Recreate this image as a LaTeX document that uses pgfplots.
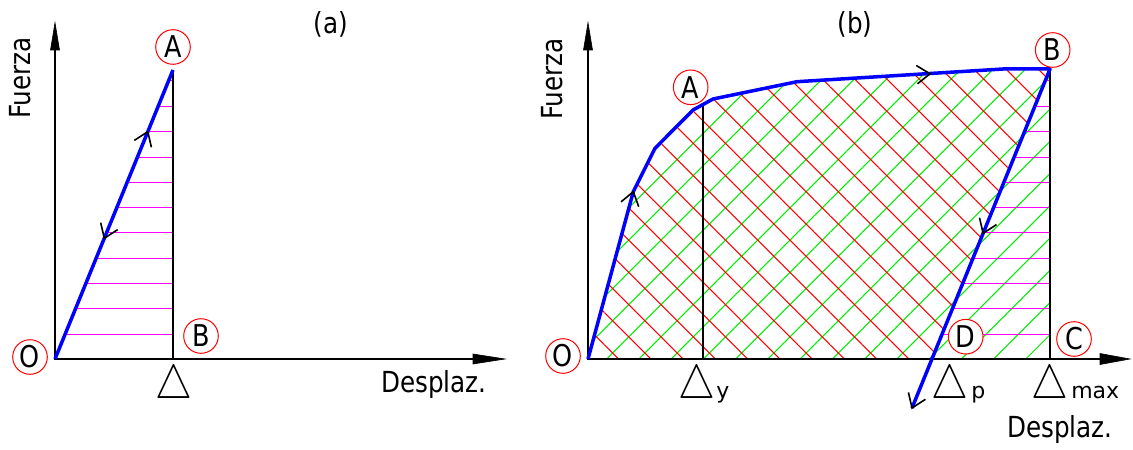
\documentclass[border=0pt]{standalone}
\usepackage{fontspec}
\setmainfont{DejaVu Sans}[FakeStretch=0.85]
\newfontfamily\plainfont{DejaVu Sans}
\usepackage{pgfplots}
\pgfplotsset{compat=1.18}
\usetikzlibrary{patterns.meta}

\definecolor{hatchred}{RGB}{255,0,0}
\definecolor{hatchgreen}{RGB}{0,235,0}
\definecolor{hatchmag}{RGB}{255,0,255}
\definecolor{curveblue}{RGB}{0,0,255}

\newcommand\labfont{\fontsize{14.5}{15}\selectfont}
\newcommand\ptfont{\fontsize{15}{15}\selectfont}
\newcommand\delfont{\fontsize{21.5}{22}\selectfont}
\newcommand\subfont{\fontsize{11}{11}\plainfont}
\newcommand\disp{\scalebox{1}[1.15]{$\triangle$}}

\tikzset{
  pt/.style={circle, draw=red, line width=0.5pt, fill=white,
    minimum size=17.3pt, inner sep=0pt, font=\ptfont},
}

\begin{document}
\begin{tikzpicture}
\begin{axis}[
  scale only axis, width=566.5pt, height=223pt,
  xmin=0, xmax=1133, ymin=0, ymax=446,
  axis lines=none, clip=false,
  unbounded coords=jump,
]
\path (rel axis cs:0,0) rectangle (rel axis cs:1,1);

% ---------- (b): energy areas ----------
% total area under the loading branch (green)
\addplot[draw=none, pattern={Lines[angle=45, distance=11.4pt, line width=0.5pt]}, pattern color=hatchgreen]
  coordinates {(588,87) (633.3,254.3) (655,297.7) (693,336) (713,347) (797,364.3) (1003,377) (1050,377) (1050,87)} -- cycle;
% dissipated area (red)
\addplot[draw=none, pattern={Lines[angle=-45, distance=11.4pt, line width=0.5pt]}, pattern color=hatchred]
  coordinates {(588,87) (633.3,254.3) (655,297.7) (693,336) (713,347) (797,364.3) (1003,377) (1050,377) (932,87)} -- cycle;
% recovered elastic area (magenta)
\addplot[hatchmag, line width=0.8pt] coordinates {
  (942.0,111.5) (1050,111.5) (nan,nan)
  (952.4,137.5) (1050,137.5) (nan,nan)
  (962.6,162.5) (1050,162.5) (nan,nan)
  (972.9,187.5) (1050,187.5) (nan,nan)
  (983.4,213.5) (1050,213.5) (nan,nan)
  (993.6,238.5) (1050,238.5) (nan,nan)
  (1003.8,263.5) (1050,263.5) (nan,nan)
  (1014.0,288.5) (1050,288.5) (nan,nan)
  (1024.6,314.5) (1050,314.5) (nan,nan)
  (1034.8,339.5) (1050,339.5) (nan,nan)
  (1045.3,365.5) (1050,365.5)
};

% ---------- (a): elastic area (magenta) ----------
\addplot[hatchmag, line width=0.8pt] coordinates {
  (65.0,111.5) (173,111.5) (nan,nan)
  (75.6,137.5) (173,137.5) (nan,nan)
  (85.8,162.5) (173,162.5) (nan,nan)
  (96.0,187.5) (173,187.5) (nan,nan)
  (106.6,213.5) (173,213.5) (nan,nan)
  (116.8,238.5) (173,238.5) (nan,nan)
  (127.0,263.5) (173,263.5) (nan,nan)
  (137.2,288.5) (173,288.5) (nan,nan)
  (147.8,314.5) (173,314.5) (nan,nan)
  (158.0,339.5) (173,339.5) (nan,nan)
  (168.6,365.5) (173,365.5)
};

% ---------- reference verticals ----------
\addplot[black, line width=1pt] coordinates {(173,87) (173,376)};
\addplot[black, line width=1pt] coordinates {(703,87) (703,341.8)};
\addplot[black, line width=1pt] coordinates {(1050,87) (1050,377)};

% ---------- axes ----------
\addplot[black, line width=1.1pt] coordinates {(55,396) (55,87) (475,87)};
\addplot[black, fill=black, line width=0.3pt] coordinates {(50.5,396) (55,423.3) (59.5,396)} -- cycle;
\addplot[black, fill=black, line width=0.3pt] coordinates {(473,92) (505,87) (473,82)} -- cycle;
\addplot[black, line width=1.1pt] coordinates {(588,396) (588,87) (1102,87)};
\addplot[black, fill=black, line width=0.3pt] coordinates {(583.5,396) (588,423.3) (592.5,396)} -- cycle;
\addplot[black, fill=black, line width=0.3pt] coordinates {(1100,92.5) (1130,87) (1100,81.5)} -- cycle;

% ---------- force-displacement paths ----------
\addplot[curveblue, line width=1.75pt, line join=round] coordinates {(55,87) (173,376)};
\addplot[curveblue, line width=1.75pt, line join=round] coordinates
  {(588,87) (633.3,254.3) (655,297.7) (693,336) (713,347) (797,364.3) (1003,377) (1050,377) (912,38)};

% direction chevrons
\addplot[black, line width=0.8pt] coordinates {(134.3,305.6) (147.8,314.3) (151.4,298.7)};
\addplot[black, line width=0.8pt] coordinates {(100.7,223.3) (104.3,207.7) (117.7,216.4)};
\addplot[black, line width=0.8pt] coordinates {(621,244.1) (633.3,254.3) (638.7,239.3)};
\addplot[black, line width=0.8pt] coordinates {(917.5,362.2) (930,372.2) (916.3,380.5)};
\addplot[black, line width=0.8pt] coordinates {(979.5,228.3) (983.1,212.7) (996.5,221.4)};
\addplot[black, line width=0.8pt] coordinates {(908.4,53.6) (912,38) (925.4,46.7)};

% ---------- point labels ----------
\node[pt] at (axis cs:173,399) {A};
\node[pt] at (axis cs:201,110) {B};
\node[pt] at (axis cs:30,89) {O};
\node[pt] at (axis cs:563,90) {O};
\node[pt] at (axis cs:690.7,358.7) {A};
\node[pt] at (axis cs:1052.7,396) {B};
\node[pt] at (axis cs:965.7,109.3) {D};
\node[pt] at (axis cs:1074,107) {C};

% ---------- titles and axis names ----------
\node[font=\labfont] at (axis cs:331,422) {(a)};
\node[font=\labfont] at (axis cs:855,422) {(b)};
\node[font=\labfont, rotate=90, anchor=base] at (axis cs:30,368) {Fuerza};
\node[font=\labfont, rotate=90, anchor=base] at (axis cs:562,367) {Fuerza};
\node[font=\labfont, anchor=base] at (axis cs:434,54) {Desplaz.};
\node[font=\labfont, anchor=base] at (axis cs:1060,9) {Desplaz.};

\node[anchor=base west, inner sep=0pt, font=\delfont] at (axis cs:155,48) {\disp};
\node[anchor=base west, inner sep=0pt, font=\delfont] at (axis cs:678,48) {\disp\hspace{0.5pt}{\subfont y}};
\node[anchor=base west, inner sep=0pt, font=\delfont] at (axis cs:931,48) {\disp\hspace{1.5pt}{\subfont p}};
\node[anchor=base west, inner sep=0pt, font=\delfont] at (axis cs:1031,48) {\disp\hspace{1.5pt}{\subfont max}};
\end{axis}
\end{tikzpicture}
\end{document}
